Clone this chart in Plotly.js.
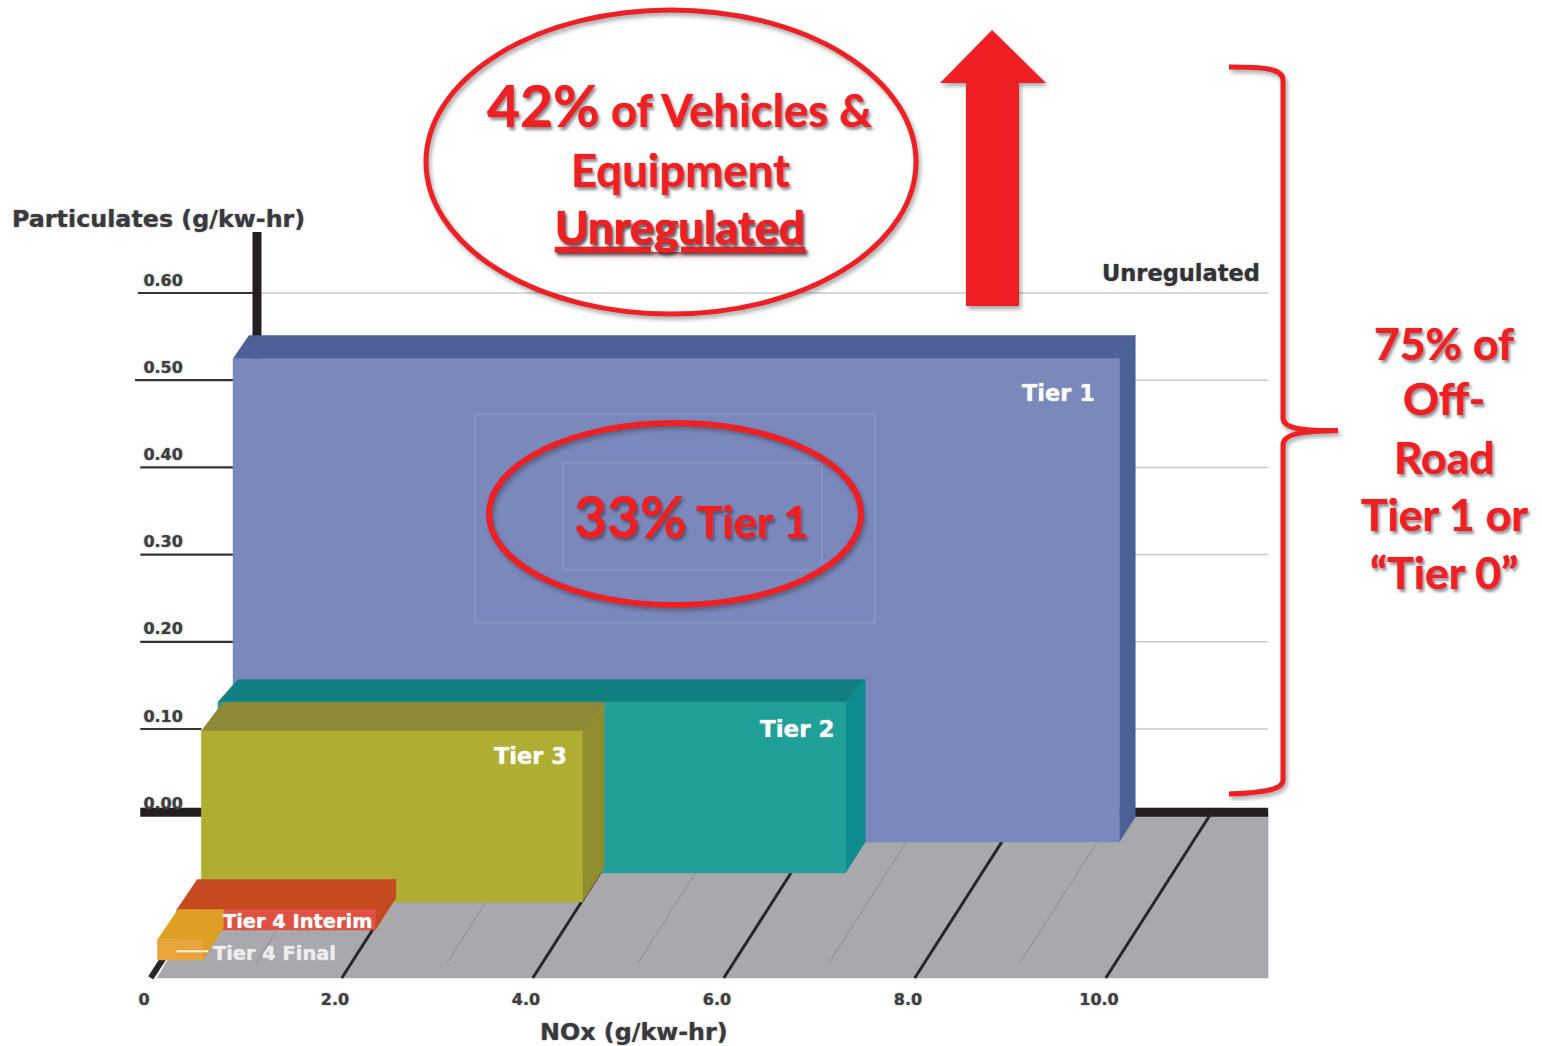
<!DOCTYPE html>
<html>
<head>
<meta charset="utf-8">
<script src="https://cdn.plot.ly/plotly-3.0.1.min.js"></script>
<style>
  html, body { margin: 0; padding: 0; background: #fff; }
  #chart { width: 1542px; height: 1046px; }
  /* soft shadow beneath the red callouts */
  #chart .shapelayer path[style*="rgb(238, 32, 36)"] {
    filter: drop-shadow(2px 3px 2px rgba(40, 40, 50, 0.42));
  }
</style>
</head>
<body>
<div id="chart"></div>
<script>
// Emission tiers: limits on the front of each block and block depth on the floor
const tierNames   = ['Tier 1', 'Tier 2', 'Tier 3', 'Tier 4 Interim', 'Tier 4 Final'];
const noxStart    = [0.00, 0.05, 0.07, 0.00, 0.00];
const noxLimit    = [9.28, 6.62, 4.06, 2.08, 0.475];
const pmFront     = [0.554, 0.196, 0.196, 0.023, 0.023];
const pmBack      = [0.552, 0.186, 0.190, 0.021, 0.021];
const depthFront  = [0.821, 0.634, 0.459, 0.290, 0.109];
const depthBack   = [0.972, 0.821, 0.664, 0.483, 0.302];
const frontColors = ['#7b88bc', '#20a098', '#b0ae32', '#de5040', '#e9a53b'];
const topColors   = ['#4c5f96', '#127f83', '#8d8a35', '#c64a20', '#df9f25'];
const sideColors  = ['#4a6096', '#0f8c8f', '#918e30', '#c64a20', '#df9f25'];

// Axis ticks
const pmTicks      = [0.0, 0.1, 0.2, 0.3, 0.4, 0.5, 0.6];
const pmTickText   = ['0.00', '0.10', '0.20', '0.30', '0.40', '0.50', '0.60'];
const pmStubStart  = [-0.06, -0.06, -0.06, -0.06, -0.06, -0.115, -0.085];
const pmStubEnd    = [0.58, 0.58, 0.92, 0.92, 0.92, 0.92, 1.162];
const noxTicks     = [0, 2, 4, 6, 8, 10];
const noxTickText  = ['0', '2.0', '4.0', '6.0', '8.0', '10.0'];
const noxMinorRuns = [1, 3, 5, 7, 9];

// Oblique projection onto the NOx / particulates axes
const DEPTH_X = 1.11, DEPTH_Y = 0.19, FLOOR_FRONT = -0.1855;
const project = (nox, pm, depth) => [nox + DEPTH_X * depth, pm + FLOOR_FRONT + DEPTH_Y * depth];
const WALL_X = 1.162, WALL_TOP = 0.67, FLOOR_RIGHT = 11.75, FLOOR_LEFT = 0.115, RULE_OFFSET = 0.05;

function polygon(points, color) {
  const xs = points.map(p => p[0]), ys = points.map(p => p[1]);
  xs.push(xs[0]); ys.push(ys[0]);
  return { x: xs, y: ys, mode: 'lines', fill: 'toself', fillcolor: color,
           line: { color: color, width: 0.5 }, hoverinfo: 'skip', showlegend: false };
}
function rule(xs, ys, color, width) {
  return { x: xs, y: ys, mode: 'lines', line: { color: color, width: width },
           hoverinfo: 'skip', showlegend: false };
}

const traces = [];

// Back wall gridlines and their dark stubs next to the scale
const gridX = [], gridY = [], stubX = [], stubY = [];
pmTicks.forEach((v, i) => {
  if (i > 0) {
    gridX.push(WALL_X, FLOOR_RIGHT, null); gridY.push(v, v, null);
    stubX.push(pmStubStart[i], pmStubEnd[i], null); stubY.push(v, v, null);
  }
});
traces.push(rule(gridX, gridY, '#c9c9c9', 1.5));
traces.push(rule(stubX, stubY, '#333336', 2.2));

// Vertical scale post
traces.push(rule([WALL_X, WALL_X], [WALL_TOP, FLOOR_FRONT + DEPTH_Y], '#231f20', 9));

// Floor, its back edge and the rules running front to back
const backY = FLOOR_FRONT + DEPTH_Y;
traces.push(polygon([[FLOOR_LEFT, FLOOR_FRONT], [FLOOR_RIGHT, FLOOR_FRONT], [FLOOR_RIGHT, backY], [WALL_X, backY]], '#a9a8ad'));
traces.push(rule([pmStubStart[0], FLOOR_RIGHT], [backY, backY], '#231f20', 9));
noxMinorRuns.forEach(n => {
  const a = project(n + RULE_OFFSET, 0, 0.09), b = project(n + RULE_OFFSET, 0, 1);
  traces.push(rule([a[0], b[0]], [a[1], b[1]], '#8e8e94', 1));
});
noxTicks.forEach(n => {
  const a = project(n + RULE_OFFSET, 0, 0), b = project(n + RULE_OFFSET, 0, n === 0 ? 0.12 : 1);
  traces.push(rule([a[0], b[0]], [a[1], b[1]], '#26262c', n === 0 ? 6 : 3));
});

// Tier blocks, from the largest at the back to the smallest at the front
tierNames.forEach((name, i) => {
  const L = noxStart[i], R = noxLimit[i], h0 = pmFront[i], h1 = pmBack[i], d0 = depthFront[i], d1 = depthBack[i];
  traces.push(polygon([project(L, h0, d0), project(R, h0, d0), project(R, h1, d1), project(L, h1, d1)], topColors[i]));
  traces.push(polygon([project(R, 0, d0), project(R, 0, d1), project(R, h1, d1), project(R, h0, d0)], sideColors[i]));
  traces.push(polygon([project(L, 0, d0), project(R, 0, d0), project(R, h0, d0), project(L, h0, d0)], frontColors[i]));
});

// Leader dash beside the Tier 4 Final label
traces.push(rule([0.32, 0.65], [-0.155, -0.155], '#f6f0e0', 2));

// Overlay helpers working in page pixels
const W = 1542, H = 1046;
const px = x => x / W, py = y => 1 - y / H;
const RED = 'rgb(238, 32, 36)';

function pathFrom(commands) {
  return commands.map(c => c[0] + ' ' + c.slice(1).map((v, i) => (i % 2 === 0 ? px(v) : py(v)).toFixed(5)).join(' ')).join(' ');
}
function ellipse(x0, y0, x1, y1, width) {
  return { type: 'circle', xref: 'paper', yref: 'paper', x0: px(x0), x1: px(x1), y0: py(y0), y1: py(y1),
           line: { color: RED, width: width }, fillcolor: 'rgba(0,0,0,0)', layer: 'above' };
}
function frame(x0, y0, x1, y1) {
  return { type: 'rect', xref: 'paper', yref: 'paper', x0: px(x0), x1: px(x1), y0: py(y0), y1: py(y1),
           line: { color: 'rgba(255,255,255,0.16)', width: 1 }, fillcolor: 'rgba(0,0,0,0)', layer: 'above' };
}
const shapes = [
  frame(475, 414, 875, 623),
  frame(563, 463, 822, 570),
  ellipse(426, 10, 916, 314, 5),
  ellipse(489, 423, 861, 605, 6),
  { type: 'path', xref: 'paper', yref: 'paper', fillcolor: RED, line: { color: RED, width: 0 }, layer: 'above',
    path: pathFrom([['M', 992, 30], ['L', 1046, 83], ['L', 1019, 83], ['L', 1019, 306], ['L', 966, 306], ['L', 966, 83], ['L', 940, 83]]) + ' Z' },
  { type: 'path', xref: 'paper', yref: 'paper', fillcolor: 'rgba(0,0,0,0)', line: { color: RED, width: 5 }, layer: 'above',
    path: pathFrom([['M', 1229, 67], ['C', 1262, 67, 1283, 68, 1283, 80], ['L', 1283, 418], ['C', 1283, 428, 1300, 431, 1338, 430.5],
                    ['C', 1300, 431, 1283, 434, 1283, 445], ['L', 1283, 780], ['C', 1283, 790, 1262, 793, 1229, 794]]) }
];

const CALLOUT = 'Lato, "Noto Sans", sans-serif';
const LABEL = '"DejaVu Sans", sans-serif';
const RED_SHADOW = '0 0 1px rgb(238,32,36), 2px 3px 3px rgba(40,40,50,0.5)';
const SOFT = '0 0 1.5px rgba(60,60,60,0.7)';
const SOFT_WHITE = '0 0 1.5px rgba(255,255,255,0.7)';

function note(text, x, y, anchor, size, color, family, shadow, weight) {
  return { text: text, xref: 'paper', yref: 'paper', x: px(x), y: py(y), xanchor: anchor, yanchor: 'middle',
           showarrow: false, borderpad: 0, borderwidth: 0,
           font: { family: family, size: size, color: color, weight: weight || 700, shadow: shadow || 'none' } };
}
const annotations = [
  note('Particulates (g/kw-hr)', 12, 219, 'left', 23.8, '#3a3a3c', LABEL, SOFT),
  note('NOx (g/kw-hr)', 540, 1032, 'left', 23.8, '#3a3a3c', LABEL, SOFT),
  note('Unregulated', 1260, 273, 'right', 22.5, '#333336', LABEL, SOFT),
  note(tierNames[0], 1095, 393, 'right', 22.5, '#ffffff', LABEL, SOFT_WHITE),
  note(tierNames[1], 835, 729, 'right', 23, '#ffffff', LABEL, SOFT_WHITE),
  note(tierNames[2], 567, 756, 'right', 22.5, '#ffffff', LABEL, SOFT_WHITE),
  note(tierNames[3], 372, 921, 'right', 19.4, '#ffffff', LABEL, SOFT_WHITE),
  note(tierNames[4], 336, 953, 'right', 19.4, '#eeeef0', LABEL, SOFT_WHITE),
  note('<span style="font-size:57px">42%</span> of Vehicles &amp;', 679, 105, 'center', 45.5, RED, CALLOUT, RED_SHADOW),
  note('Equipment', 680, 169, 'center', 45.5, RED, CALLOUT, RED_SHADOW),
  note('<u>Unregulated</u>', 680, 227, 'center', 45.5, RED, CALLOUT, RED_SHADOW),
  note('<span style="font-size:57px">33%</span> Tier 1', 691, 516, 'center', 44, RED, CALLOUT, RED_SHADOW),
  note('75% of', 1444, 342, 'center', 44.5, RED, CALLOUT, RED_SHADOW),
  note('Off-', 1444, 398, 'center', 44.5, RED, CALLOUT, RED_SHADOW),
  note('Road', 1444, 456, 'center', 44.5, RED, CALLOUT, RED_SHADOW),
  note('Tier 1 or', 1444, 513, 'center', 44.5, RED, CALLOUT, RED_SHADOW),
  note('\u201CTier 0\u201D', 1444, 571, 'center', 44.5, RED, CALLOUT, RED_SHADOW)
];

const tickFont = { family: LABEL, size: 16, color: '#3f3f41', weight: 700, shadow: SOFT };

const layout = {
  width: W, height: H,
  margin: { l: 0, r: 0, t: 0, b: 0 },
  paper_bgcolor: '#ffffff', plot_bgcolor: '#ffffff',
  showlegend: false, hovermode: false,
  xaxis: {
    range: [-1.5288, 14.6178], fixedrange: true, showgrid: false, zeroline: false, showline: false,
    anchor: 'free', position: 0.0557, side: 'bottom', ticks: '',
    tickmode: 'array', tickvals: noxTicks, ticktext: noxTickText, tickfont: tickFont, ticklabelshift: -2
  },
  yaxis: {
    range: [-0.26353, 0.93601], fixedrange: true, showgrid: false, zeroline: false, showline: false,
    anchor: 'free', position: 0.1186, side: 'left', ticks: '', ticklabelshift: -13,
    tickmode: 'array', tickvals: pmTicks, ticktext: pmTickText, tickfont: tickFont
  },
  shapes: shapes,
  annotations: annotations
};

Plotly.newPlot('chart', traces, layout, { displayModeBar: false, responsive: false });
</script>
</body>
</html>
